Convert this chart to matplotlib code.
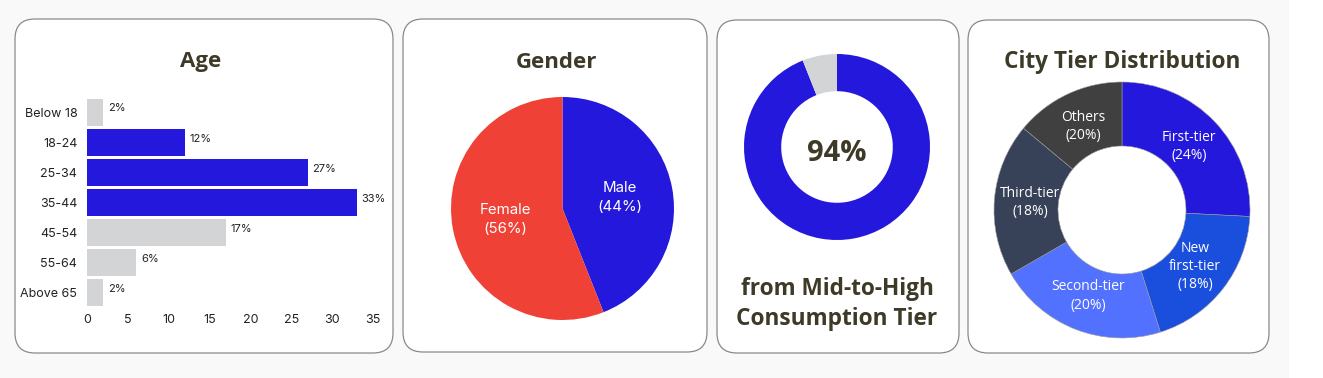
import numpy as np
import matplotlib
matplotlib.use('Agg')
import matplotlib.pyplot as plt
from matplotlib.patches import FancyBboxPatch, Rectangle

# data
age_groups = ['Below 18', '18-24', '25-34', '35-44', '45-54', '55-64', 'Above 65']
age_pct = [2, 12, 27, 33, 17, 6, 2]
age_highlight = [False, True, True, True, False, False, False]

gender_labels = ['Male', 'Female']
gender_pct = [44, 56]

consumption_pct = [94, 6]

tier_labels = ['First-tier', 'New\nfirst-tier', 'Second-tier', 'Third-tier', 'Others']
tier_values = [24, 18, 20, 18, 13]      # wedge sizes as drawn
tier_label_pct = [24, 18, 20, 18, 20]   # percentages printed on the labels

BLUE = '#2318dc'
GRAY = '#d3d4d6'
RED = '#ef4136'
TITLE = '#3d3a28'
tier_colors = ['#2318dc', '#1a4fde', '#5271ff', '#374158', '#404040']

W, H = 1323, 378
fig = plt.figure(figsize=(W / 100, H / 100), dpi=100)
fig.patch.set_facecolor('white')


def px_axes(x0, y0, x1, y1):
    # axes from pixel box (top-left origin)
    return fig.add_axes([x0 / W, 1 - y1 / H, (x1 - x0) / W, (y1 - y0) / H])


# background with rounded panels
bg = fig.add_axes([0, 0, 1, 1])
bg.set_xlim(0, W)
bg.set_ylim(H, 0)
bg.axis('off')
bg.add_patch(Rectangle((0, 0), 1289, H, color='#f9f9f9', lw=0))
panels = [(15, 19, 393, 353), (403, 19, 707, 352), (717, 20, 959, 353), (968, 20, 1269, 353)]
for x0, y0, x1, y1 in panels:
    bg.add_patch(FancyBboxPatch((x0, y0), x1 - x0, y1 - y0,
                                boxstyle='round,pad=0,rounding_size=20',
                                fc='white', ec='#8a8a8a', lw=0.9))

title_font = dict(family='Open Sans', fontweight='bold', color=TITLE)
bg.text(201, 62, 'Age', ha='center', va='center', fontsize=16, **title_font)
bg.text(556, 62, 'Gender', ha='center', va='center', fontsize=16, **title_font)
bg.text(1122, 62, 'City Tier Distribution', ha='center', va='center', fontsize=16.3, **title_font)
bg.text(837, 289, 'from Mid-to-High', ha='center', va='center', fontsize=16.3, **title_font)
bg.text(837, 319, 'Consumption Tier', ha='center', va='center', fontsize=16.3, **title_font)

# Age bars
ax1 = px_axes(87, 97, 373, 308)
y = np.arange(len(age_groups))
cols = [BLUE if h else GRAY for h in age_highlight]
ax1.barh(y, age_pct, height=0.9, color=cols)
ax1.set_ylim(len(age_groups) - 0.5, -0.5)
ax1.set_xlim(0, 35)
ax1.set_xticks(range(0, 36, 5))
ax1.set_yticks(y)
ax1.set_yticklabels(age_groups)
for s in ax1.spines.values():
    s.set_visible(False)
ax1.tick_params(length=0, labelsize=9, colors='#222222')
ax1.tick_params(axis='y', pad=7)
ax1.tick_params(axis='x', pad=4)
for lab in ax1.get_xticklabels() + ax1.get_yticklabels():
    lab.set_family('Inter')
for i, v in enumerate(age_pct):
    ax1.text(v + 0.6, i - 0.12, f'{v}%', va='center', ha='left', fontsize=8,
             family='Inter', color='#222222')

# Gender pie
ax2 = px_axes(451, 97, 674, 320)
ax2.pie(gender_pct, colors=[BLUE, RED], startangle=90, counterclock=False,
        labels=[f'{l}\n({p}%)' for l, p in zip(gender_labels, gender_pct)],
        labeldistance=0.52,
        textprops=dict(color='white', fontsize=10.8, family='Inter', ha='center', va='center',
                       linespacing=1.4),
        wedgeprops=dict(lw=0))
ax2.set_xlim(-1, 1)
ax2.set_ylim(-1, 1)

# consumption donut
ax3 = px_axes(744, 54, 930, 240)
ax3.pie(consumption_pct, colors=[BLUE, GRAY], startangle=90, counterclock=False,
        wedgeprops=dict(width=0.4, lw=0))
ax3.set_xlim(-1, 1)
ax3.set_ylim(-1, 1)
ax3.text(0, -0.07, f'{consumption_pct[0]}%', ha='center', va='center', fontsize=21, **title_font)

# City tier donut
ax4 = px_axes(994, 82, 1250, 338)
ax4.pie(tier_values, colors=tier_colors, startangle=90, counterclock=False,
        labels=[f'{l}\n({p}%)' for l, p in zip(tier_labels, tier_label_pct)],
        labeldistance=0.72,
        textprops=dict(color='white', fontsize=10, family='Open Sans', ha='center', va='center',
                       linespacing=1.3),
        wedgeprops=dict(width=0.5, lw=0.4, ec='#9a9a9a'))
ax4.set_xlim(-1, 1)
ax4.set_ylim(-1, 1)

fig.savefig('out.png', dpi=100, facecolor=fig.get_facecolor())
